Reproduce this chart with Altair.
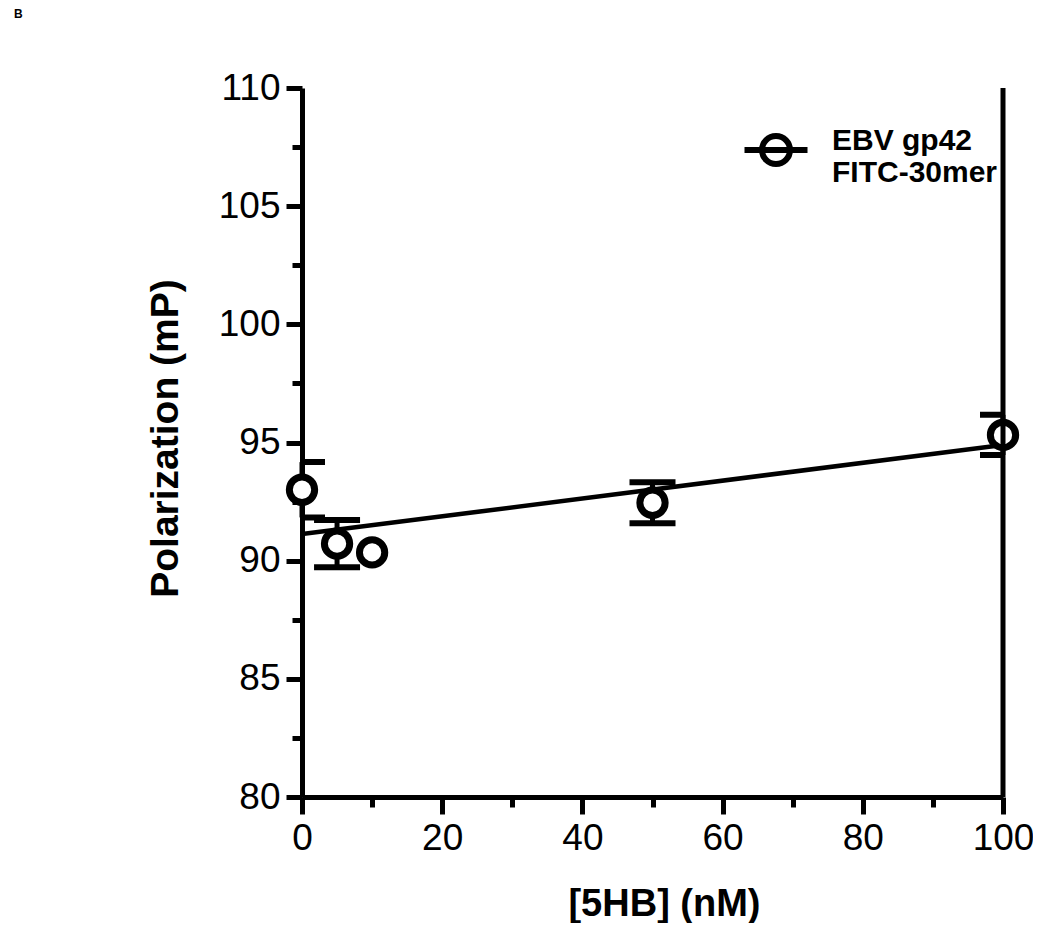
import altair as alt
import pandas as pd

# ---- data ----
conc = [0, 5, 10, 50, 100]                  # [5HB] (nM)
polar = [93.0, 90.72, 90.35, 92.45, 95.32]  # Polarization (mP)
err = [1.17, 1.0, 0.0, 0.87, 0.85]          # error bar half-lengths
series_name = ["EBV gp42 FITC-30mer"] * 5
legend_lines = ["EBV gp42", "FITC-30mer"]
x_ticks = [0, 10, 20, 30, 40, 50, 60, 70, 80, 90, 100]
y_ticks = [80, 82.5, 85, 87.5, 90, 92.5, 95, 97.5, 100, 102.5, 105, 107.5, 110]
border = pd.DataFrame({"bx": [100], "by0": [80], "by1": [110]})

df = pd.DataFrame({"conc": conc, "pol": polar, "err": err, "series": series_name})

FONT = "Liberation Sans"
xscale = alt.Scale(domain=[0, 100], nice=False, zero=False)
yscale = alt.Scale(domain=[80, 110], nice=False, zero=False)

xaxis = alt.Axis(
    values=x_ticks, title="[5HB] (nM)",
    labelExpr="datum.value % 20 === 0 ? datum.label : ''",
    tickSize={"condition": {"test": "datum.value % 20 === 0", "value": 17}, "value": 10},
    labelPadding=6, labelFlush=False, labelOverlap=False,
    labelFontSize=37, titleFontSize=38,
    titleX=362, titleY=107, titleBaseline="middle", titleAlign="center",
)
yaxis = alt.Axis(
    values=y_ticks, title="Polarization (mP)",
    labelExpr="datum.value % 5 === 0 ? datum.label : ''",
    tickSize={"condition": {"test": "datum.value % 5 === 0", "value": 16}, "value": 10},
    labelPadding=6, labelFlush=False, labelOverlap=False,
    labelFontSize=37, titleFontSize=39,
    titleX=-137, titleY=350, titleBaseline="middle", titleAlign="center", titleAngle=-90,
)

base = alt.Chart(df)

fit = base.transform_regression("conc", "pol", extent=[0, 100]).mark_line(
    color="black", strokeWidth=4.5, clip=True
).encode(
    x=alt.X("conc:Q", scale=xscale, axis=xaxis),
    y=alt.Y("pol:Q", scale=yscale, axis=yaxis),
)

bars = base.transform_filter("datum.err > 0").transform_calculate(
    lo="datum.pol - datum.err", hi="datum.pol + datum.err"
).mark_rule(color="black", strokeWidth=5).encode(
    x="conc:Q", y="lo:Q", y2="hi:Q"
)

caps = base.transform_filter("datum.err > 0").transform_calculate(
    lo="datum.pol - datum.err", hi="datum.pol + datum.err"
).transform_fold(["lo", "hi"], as_=["end", "val"]).mark_tick(
    orient="horizontal", size=46, thickness=6, color="black", opacity=1, clip=True
).encode(x="conc:Q", y="val:Q")

legend_path = "M-1,0A1,1,0,1,1,1,0A1,1,0,1,1,-1,0Z M-2.25,0L2.25,0"
points = base.mark_point(
    shape="circle", size=640, strokeWidth=7, filled=False,
    fill="white", fillOpacity=1, opacity=1
).encode(
    x="conc:Q", y="pol:Q",
    color=alt.Color(
        "series:N", scale=alt.Scale(range=["black"]),
        legend=alt.Legend(
            title=None, orient="none", legendX=457, legendY=45, padding=0,
            symbolType=legend_path, symbolSize=784, symbolStrokeWidth=6,
            symbolFillColor="white", symbolStrokeColor="black",
            labelExpr=str(legend_lines), labelFont=FONT, labelFontSize=30,
            labelFontWeight="bold", labelOffset=39, labelLimit=0, labelColor="black",
            labelBaseline="alphabetic",
        ),
    ),
)

right = alt.Chart(border).mark_rule(color="black", strokeWidth=5).encode(
    x="bx:Q", y="by0:Q", y2="by1:Q"
)

chart = alt.layer(fit, bars, caps, points, right).properties(
    width=701, height=709,
    autosize=alt.AutoSizeParams(type="none"),
    padding={"left": 294, "top": 80, "right": 30, "bottom": 126},
    title=alt.TitleParams("B", anchor="start", frame="group", dx=-288, dy=-44,
                          fontSize=12, fontWeight="bold", font=FONT, color="black"),
).configure_view(stroke=None).configure_axis(
    grid=False, domainColor="black", domainWidth=5, tickColor="black", tickWidth=5,
    labelColor="black", titleColor="black", labelFont=FONT, titleFont=FONT,
    titleFontWeight="bold", labelFontWeight="normal",
)

chart.save("out.html", embed_options={"renderer": "svg", "actions": False})
